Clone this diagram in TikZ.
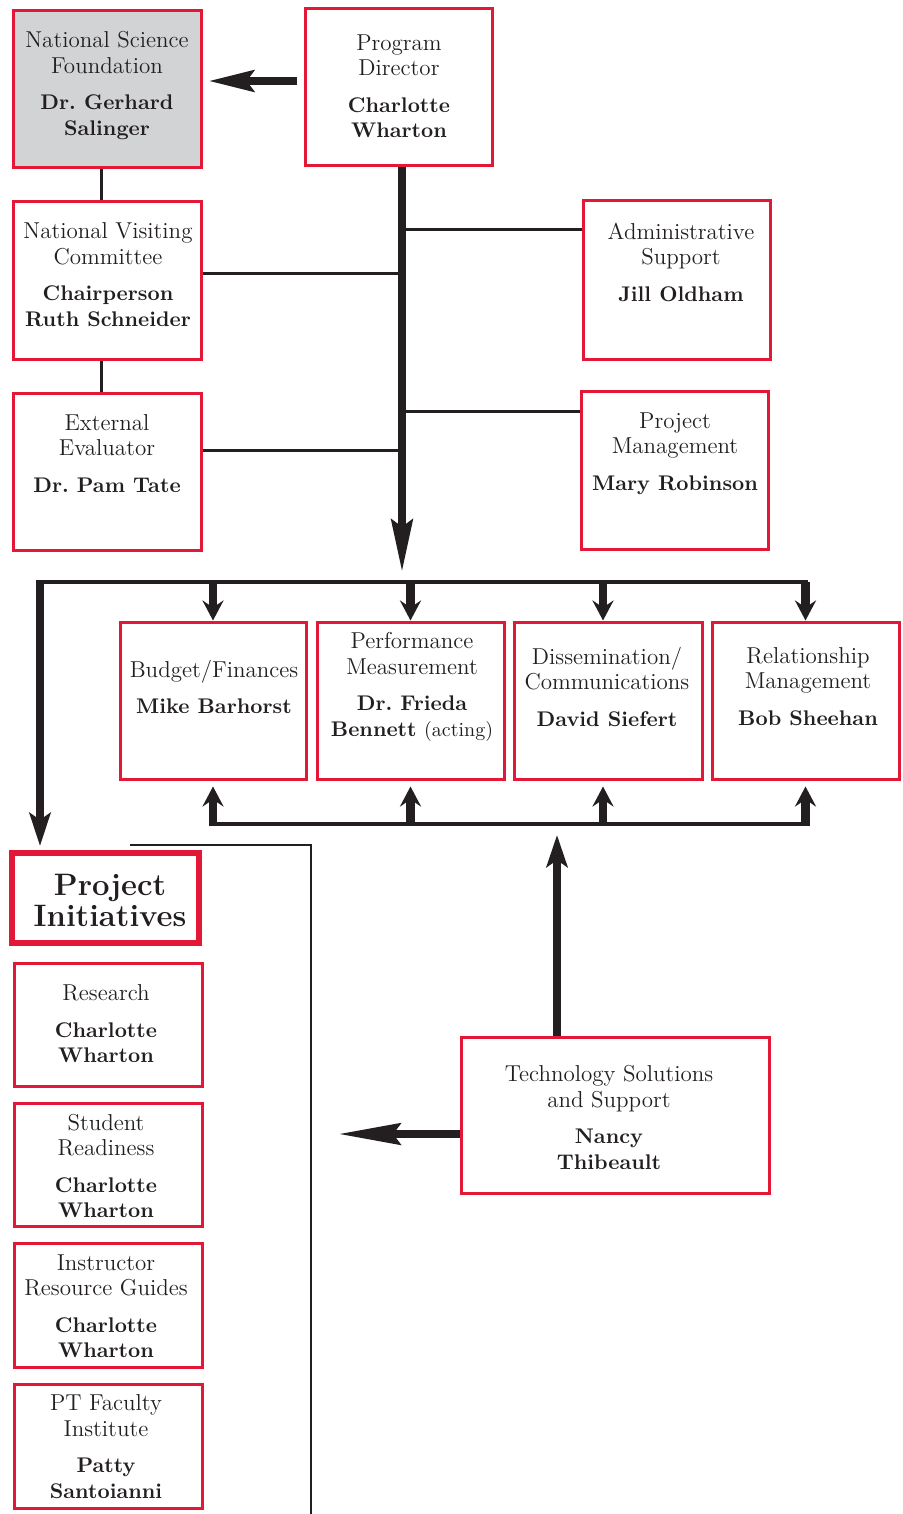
\documentclass[tikz,border=0pt]{standalone}
\usetikzlibrary{arrows.meta,fit,calc}
\definecolor{boxred}{RGB}{227,24,55}
\definecolor{ink}{RGB}{35,31,32}
\definecolor{nsfgray}{RGB}{209,211,212}
\newcommand\bnm[1]{{\fontsize{10.6}{12.75}\selectfont\bfseries #1}}
\begin{document}
\begin{tikzpicture}[x=0.5pt,y=-0.5pt,
  box/.style={draw=boxred, line width=1.5pt, fill=white, inner sep=0pt},
  txt/.style={align=center, text=ink, inner sep=0pt, font=\fontsize{11.5}{12.75}\selectfont},
  thin/.style={draw=ink, line width=1.5pt},
  bar/.style={draw=ink, line width=1.75pt},
  thick/.style={draw=ink, line width=4.25pt},
  headL/.style={-{Stealth[length=#1,width=10.5pt,inset=3.5pt]}},
]
\useasboundingbox (0,0) rectangle (903,1514);

% ---------- top boxes ----------
\node[box, fill=nsfgray, fit={(13,11)(201,168)}] (nsf) {};
\node[txt] (nsft) at (107,85.5) {National Science\\Foundation\\[5.5pt]\bnm{Dr.\ Gerhard}\\\bnm{Salinger}};

\node[box, fit={(305,9)(492,166)}] (pd) {};
\node[txt] (pdt) at (399,86) {Program\\Director\\[5.5pt]\bnm{Charlotte}\\\bnm{Wharton}};

\node[box, fit={(13,202)(201,359)}] (nvc) {};
\node[txt] (nvct) at (108,274.5) {National Visiting\\Committee\\[5.5pt]\bnm{Chairperson}\\\bnm{Ruth Schneider}};

\node[box, fit={(13,393)(201,550)}] (ext) {};
\node[txt] (extt) at (107,453.5) {External\\Evaluator\\[5.5pt]\bnm{Dr.\ Pam Tate}};

\node[box, fit={(583,201)(770,359)}] (adm) {};
\node[txt] (admt) at (681,262) {Administrative\\Support\\[5.5pt]\bnm{Jill Oldham}};

\node[box, fit={(581,391)(768,549)}] (pm) {};
\node[txt] (pmt) at (675,453.5) {Project\\Management\\[5.5pt]\bnm{Mary Robinson}};

% ---------- middle row ----------
\node[box, fit={(120,622)(306,779)}] (bud) {};
\node[txt] (budt) at (214,687) {Budget/Finances\\[5.5pt]\bnm{Mike Barhorst}};

\node[box, fit={(317,622)(504,779)}] (perf) {};
\node[txt] (perft) at (412,687) {Performance\\Measurement\\[5.5pt]\bnm{Dr.\ Frieda}\\\bnm{Bennett} {\fontsize{10}{12.75}\selectfont(acting)}};

\node[box, fit={(514,622)(702,779)}] (dis) {};
\node[txt] (dist) at (607,686.5) {Dissemination/\\Communications\\[5.5pt]\bnm{David Siefert}};

\node[box, fit={(712,622)(899,779)}] (rel) {};
\node[txt] (relt) at (808,686.5) {Relationship\\Management\\[5.5pt]\bnm{Bob Sheehan}};

% ---------- technology ----------
\node[box, fit={(461,1037)(769,1193)}] (tech) {};
\node[txt] (techt) at (609,1117.5) {Technology Solutions\\and Support\\[5.5pt]\bnm{Nancy}\\\bnm{Thibeault}};

% ---------- project initiatives ----------
\node[box, line width=3pt, fit={(12,853)(199,943)}] (pi) {};
\node[txt, font=\fontsize{15.5}{15.5}\selectfont\bfseries] (pit) at (110,900.5) {Project\\Initiatives};

\node[box, fit={(14,963)(202,1086)}] (res) {};
\node[txt] (rest) at (106,1024) {Research\\[5.5pt]\bnm{Charlotte}\\\bnm{Wharton}};

\node[box, fit={(14,1103)(202,1226)}] (stu) {};
\node[txt] (stut) at (106,1166) {Student\\Readiness\\[5.5pt]\bnm{Charlotte}\\\bnm{Wharton}};

\node[box, fit={(14,1243)(202,1367)}] (ins) {};
\node[txt] (inst) at (106,1306) {Instructor\\Resource Guides\\[5.5pt]\bnm{Charlotte}\\\bnm{Wharton}};

\node[box, fit={(14,1384)(202,1508)}] (ptf) {};
\node[txt] (ptft) at (106,1446.5) {PT Faculty\\Institute\\[5.5pt]\bnm{Patty}\\\bnm{Santoianni}};

% ---------- coordinates ----------
\coordinate (spine) at (402,572);
\coordinate (barL) at (40,582);
\coordinate (barR) at (808,582);
\coordinate (lowL) at (213,824);
\coordinate (lowR) at (808,824);
\coordinate (techtip) at (557,835);
\coordinate (techleft) at (338,1134);
\coordinate (brS) at (130,845);
\coordinate (brC) at (311,845);
\coordinate (brE) at (311,1514);

% ---------- connectors ----------
\draw[thick, headL=22.5pt] ($(pd.west)+(-7,-6.5)$) -- ($(nsf.east)+(6,-8.5)$);
\draw[thin] ([xshift=-3pt]nsf.south) -- ([xshift=-3pt]nsf.south |- nvc.north);
\draw[thin] ([xshift=-3pt]nvc.south) -- ([xshift=-3pt]nvc.south |- ext.north);

\draw[thin] ([yshift=-36.5pt]nvc.north east) -- ([yshift=-36.5pt]nvc.north east -| spine);
\draw[thin] ([yshift=-29.5pt]ext.north east) -- ([yshift=-29.5pt]ext.north east -| spine);
\draw[thin] ([yshift=-15pt]adm.north west) -- ([yshift=-15pt]adm.north west -| spine);
\draw[thin] ([yshift=-11pt]pm.north west) -- ([yshift=-11pt]pm.north west -| spine);

\draw[thick, headL=26pt] (pd.south -| spine) -- (spine);

\draw[bar] (barL) -- (barR);
\draw[thick, headL=16.5pt] ([yshift=0.9pt]barL) -- ($(pi.north -| barL)+(0,-4)$);

\draw[thick, headL=10pt] (bud.north |- barL) -- (bud.north);
\draw[thick, headL=10pt] (perf.north |- barL) -- (perf.north);
\draw[thick, headL=10pt] ([xshift=-2.5pt]dis.north |- barL) -- ([xshift=-2.5pt]dis.north);
\draw[thick, headL=10pt] (rel.north |- barL) -- (rel.north);

\draw[bar] (lowL) -- (lowR);
\draw[thick, headL=10pt] ([yshift=-0.9pt]bud.south |- lowL) -- ($(bud.south)+(0,6)$);
\draw[thick, headL=10pt] ([yshift=-0.9pt]perf.south |- lowL) -- ($(perf.south)+(0,6)$);
\draw[thick, headL=10pt] ([yshift=-0.9pt,xshift=-2.5pt]dis.south |- lowL) -- ($(dis.south)+(-5,6)$);
\draw[thick, headL=10pt] ([yshift=-0.9pt]rel.south |- lowL) -- ($(rel.south)+(0,6)$);

\draw[thick, headL=16pt] (tech.north -| techtip) -- (techtip);
\draw[thick, headL=31pt] ([yshift=-9.5pt]tech.west) -- (techleft);

\draw[thin, line width=1.25pt] (brS) -- (brC) -- (brE);
\end{tikzpicture}
\end{document}
